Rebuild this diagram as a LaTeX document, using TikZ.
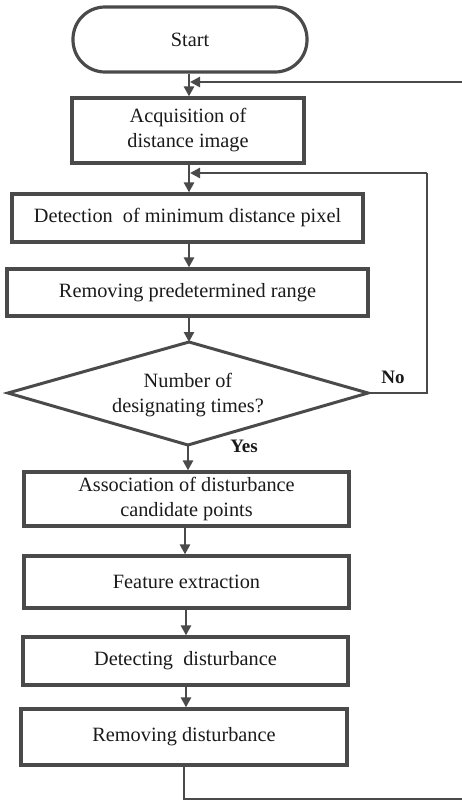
\documentclass[tikz,border=0pt]{standalone}
\usepackage{fontspec}
\setmainfont{Liberation Serif}
\usetikzlibrary{arrows.meta}
\definecolor{ln}{HTML}{4A4A4A}
\definecolor{tx}{HTML}{1A1A1A}
\tikzset{
  x=1pt,y=-1pt,
  box/.style={draw=ln,line width=3.2pt,rectangle,inner sep=2pt,align=center,text=tx,
    font=\fontsize{20.3}{25}\selectfont},
  term/.style={box,rounded corners=32pt},
  dectext/.style={inner sep=0pt,align=center,text=tx,font=\fontsize{20.3}{25}\selectfont},
  decline/.style={draw=ln,line width=3pt,line join=miter},
  conn/.style={draw=ln,line width=2.6pt},
  arr/.style={conn,-{Triangle[length=10pt,width=10pt]}},
  lbl/.style={text=tx,font=\fontsize{19}{20}\selectfont\bfseries,inner sep=0pt}
}
\begin{document}
\begin{tikzpicture}
\useasboundingbox (0,0) rectangle (462,801);
\clip (0,0) rectangle (462,801);
\node[term,minimum width=234pt,minimum height=65pt] (start) at (190,39.5) {Start};
\node[box,minimum width=232pt,minimum height=65pt] (acq) at (188,130.5) {Acquisition of\\distance image};
\node[box,minimum width=351pt,minimum height=48pt] (det) at (187.5,218) {Detection\ \ of minimum distance pixel};
\node[box,minimum width=361pt,minimum height=47pt] (rem) at (187.5,292.5) {Removing predetermined range};
% decision diamond
\coordinate (dt) at (189,342);
\coordinate (dl) at (8,393);
\coordinate (dr) at (368,393);
\coordinate (db) at (188,445);
\draw[decline] (dt) -- (dr) -- (db) -- (dl) -- cycle;
\node[dectext] (num) at (188,395) {Number of\\designating times?};
\node[box,minimum width=325pt,minimum height=54pt] (ass) at (186.5,499) {Association of disturbance\\candidate points};
\node[box,minimum width=325pt,minimum height=52pt] (fea) at (186.5,582) {Feature extraction};
\node[box,minimum width=325pt,minimum height=48pt] (dtc) at (185.5,661) {Detecting\ \ disturbance};
\node[box,minimum width=326pt,minimum height=56pt] (rmd) at (184,737) {Removing disturbance};
\node[lbl] (no) at (393,377) {No};
\node[lbl] (yes) at (244,446) {Yes};
\coordinate (j1) at (189,82);
\coordinate (j2) at (189,173);
\coordinate (bl) at (184,799);
\coordinate (br) at (470,799);
\coordinate (tr) at (470,82);
\coordinate (nr) at (427,393);
\coordinate (nt) at (427,173);
\draw[arr] (start.south -| j1) -- (acq.north -| j1);
\draw[arr] (acq.south -| j2) -- (det.north -| j2);
\draw[arr] (det.south -| j2) -- (rem.north -| j2);
\draw[arr] (rem.south -| j2) -- (dt);
\draw[arr] (db) -- (ass.north -| db);
\draw[arr] (ass.south -| 185,0) -- (fea.north -| 185,0);
\draw[arr] (fea.south -| 186,0) -- (dtc.north -| 186,0);
\draw[arr] (dtc.south -| 186,0) -- (rmd.north -| 186,0);
\draw[conn] (rmd.south -| bl) -- (bl) -- (br) -- (tr);
\draw[arr] (tr) -- ([xshift=1pt]j1);
\draw[conn] (dr) -- (nr) -- (nt);
\draw[arr] (nt) -- ([xshift=1pt]j2);
\end{tikzpicture}
\end{document}
